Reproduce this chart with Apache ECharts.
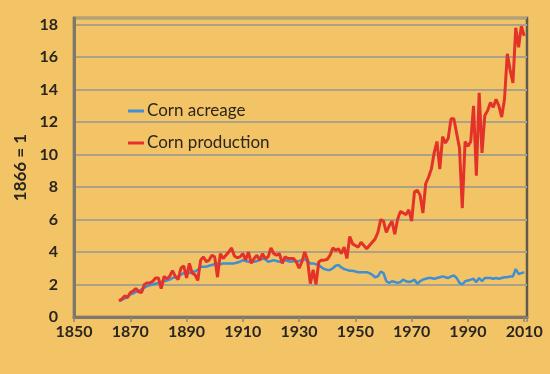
<!DOCTYPE html>
<html>
<head>
<meta charset="utf-8">
<script src="https://cdn.jsdelivr.net/npm/echarts@6/dist/echarts.min.js"></script>
<style>
html,body{margin:0;padding:0;background:#F3C466;}
#c{width:550px;height:374px;}
</style>
</head>
<body>
<div id="c"></div>
<script>
var startYear = 1866;
var seriesNames = ['Corn acreage', 'Corn production'];
var xTicks = [1850, 1870, 1890, 1910, 1930, 1950, 1970, 1990, 2010];
var yTicks = [0, 2, 4, 6, 8, 10, 12, 14, 16, 18];

var acreage = [
1.0,1.05,1.15,1.2,1.4,1.45,1.55,1.6,1.7,1.8,
1.9,1.95,2.0,2.05,2.1,2.15,2.2,2.25,2.3,2.4,
2.45,2.5,2.6,2.7,2.75,2.7,2.8,2.8,2.9,3.1,
3.1,3.1,3.15,3.2,3.25,3.3,3.25,3.3,3.3,3.3,
3.3,3.3,3.35,3.4,3.5,3.45,3.4,3.45,3.4,3.45,
3.5,3.6,3.55,3.4,3.45,3.5,3.45,3.4,3.4,3.5,
3.45,3.4,3.45,3.4,3.45,3.5,3.55,3.45,3.3,3.3,
3.25,3.2,3.05,2.95,2.9,2.9,3.0,3.15,3.2,3.05,
2.95,2.9,2.85,2.85,2.8,2.75,2.75,2.75,2.75,2.7,
2.6,2.45,2.5,2.8,2.7,2.2,2.1,2.2,2.15,2.1,
2.15,2.3,2.2,2.15,2.2,2.3,2.05,2.2,2.3,2.35,
2.4,2.4,2.35,2.4,2.45,2.5,2.45,2.4,2.5,2.55,
2.4,2.1,2.0,2.2,2.25,2.3,2.35,2.15,2.4,2.2,
2.4,2.4,2.4,2.35,2.4,2.35,2.4,2.45,2.45,2.5,
2.5,2.95,2.65,2.7,2.75
];

var production = [
1.0,1.1,1.3,1.2,1.5,1.6,1.75,1.55,1.5,2.0,
2.1,2.1,2.2,2.4,2.4,1.75,2.5,2.35,2.5,2.85,
2.5,2.3,3.0,3.15,2.4,3.3,2.7,2.6,2.25,3.5,
3.7,3.4,3.5,3.8,3.7,2.45,3.9,3.6,3.8,4.0,
4.25,3.75,3.65,3.7,3.9,3.5,4.0,3.3,3.6,3.8,
3.5,3.9,3.6,3.7,4.25,3.9,3.8,3.9,3.3,3.7,
3.6,3.6,3.6,3.4,3.0,3.4,4.0,3.5,2.05,2.9,
2.0,3.4,3.5,3.5,3.55,3.8,4.25,4.1,4.2,3.9,
4.3,3.6,4.95,4.5,4.4,4.3,4.6,4.4,4.2,4.4,
4.6,4.8,5.2,6.0,5.9,5.2,5.6,5.9,5.1,6.0,
6.5,6.4,6.3,6.6,5.9,7.7,7.8,7.5,6.4,8.2,
8.6,9.1,10.1,10.8,9.1,11.1,10.7,11.0,12.2,12.2,
11.3,10.4,6.7,10.8,10.5,10.8,13.0,8.7,13.8,10.1,
12.4,12.7,13.2,12.9,13.4,13.0,12.3,13.4,16.2,15.2,
14.4,17.8,16.6,17.9,17.3
];

function pairs(arr) {
  return arr.map(function (v, i) { return [startYear + i, v]; });
}

var FONT = 'Lato, "DejaVu Sans", sans-serif';
var chart = echarts.init(document.getElementById('c'), null, {renderer: 'canvas'});
chart.setOption({
  backgroundColor: '#F3C466',
  animation: false,
  grid: {
    left: 74, right: 23, top: 18, bottom: 57,
    show: true, borderColor: '#5E5A50', borderWidth: 2.5, backgroundColor: 'transparent'
  },
  legend: {
    orient: 'vertical',
    left: 123, top: 96,
    itemGap: 12,
    itemWidth: 16, itemHeight: 3,
    itemStyle: {borderWidth: 0},
    data: seriesNames.map(function (n) { return {name: n, icon: 'rect'}; }),
    textStyle: {fontFamily: FONT, fontSize: 17, color: '#2a2520', lineHeight: 20, padding: [0,0,0,-2]}
  },
  xAxis: {
    type: 'value',
    min: xTicks[0], max: 2011, interval: 20,
    axisLine: {show: true, lineStyle: {color: '#7d786c', width: 3}},
    axisTick: {show: true, length: 5, lineStyle: {color: '#8a8578', width: 1.5}},
    splitLine: {show: false},
    axisLabel: {
      margin: 7,
      fontFamily: FONT, fontSize: 16, fontWeight: 'bold', color: '#2a2520',
      formatter: function (v) { return xTicks.indexOf(v) >= 0 ? String(v) : ''; }
    }
  },
  yAxis: {
    type: 'value',
    min: 0, max: 18.4, interval: 2,
    name: '1866 = 1',
    nameLocation: 'middle',
    nameGap: 39,
    nameRotate: 90,
    nameTextStyle: {fontFamily: FONT, fontSize: 17, fontWeight: 'bold', color: '#2a2520'},
    axisLine: {show: true, lineStyle: {color: '#7d786c', width: 3}},
    axisTick: {show: false},
    splitLine: {show: true, lineStyle: {color: '#ABA18A', width: 2}},
    axisLabel: {
      margin: 16,
      fontFamily: FONT, fontSize: 16, fontWeight: 'bold', color: '#2a2520',
      formatter: function (v) { return yTicks.indexOf(v) >= 0 ? String(v) : ''; }
    }
  },
  series: [
    {
      name: seriesNames[0], type: 'line', data: pairs(acreage),
      showSymbol: false, symbol: 'none',
      lineStyle: {color: '#3F8FD2', width: 2.5},
      itemStyle: {color: '#3F8FD2'}
    },
    {
      name: seriesNames[1], type: 'line', data: pairs(production),
      showSymbol: false, symbol: 'none',
      lineStyle: {color: '#E3322A', width: 3},
      itemStyle: {color: '#E3322A'}
    }
  ]
});
</script>
</body>
</html>
